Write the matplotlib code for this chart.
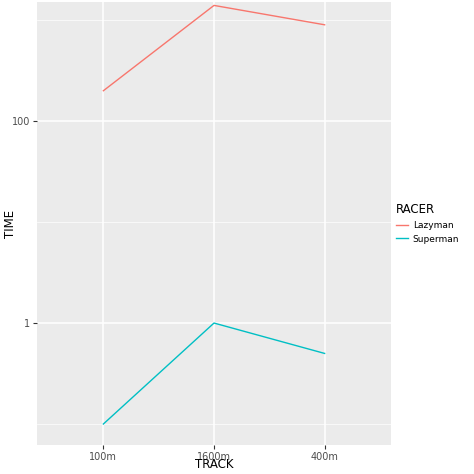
import matplotlib
matplotlib.use('Agg')
import matplotlib.pyplot as plt
import matplotlib.ticker as mticker

tracks = ['100m', '1600m', '400m']
lazyman = [200, 1400, 900]
superman = [0.1, 1.0, 0.5]

W = H = 474
fig = plt.figure(figsize=(4.74, 4.74), dpi=100)
# panel in pixel coords
l, r, t, b = 37, 391, 2, 445
ax = fig.add_axes([l / W, 1 - b / H, (r - l) / W, (b - t) / H])
ax.set_facecolor('#EBEBEB')
for s in ax.spines.values():
    s.set_visible(False)

x = range(len(tracks))
ax.plot(x, lazyman, color='#F8766D', lw=1.0, label='Lazyman')
ax.plot(x, superman, color='#00BFC4', lw=1.0, label='Superman')

ax.set_yscale('log')
ax.set_ylim(10 ** -1.208, 10 ** 3.18)
ax.set_xlim(-0.6, 2.6)
ax.set_xticks(list(x))
ax.set_xticklabels(tracks)
ax.yaxis.set_major_locator(mticker.FixedLocator([1, 100]))
ax.yaxis.set_major_formatter(mticker.FixedFormatter(['1', '100']))
ax.yaxis.set_minor_locator(mticker.FixedLocator([0.1, 10, 1000]))
ax.yaxis.set_minor_formatter(mticker.NullFormatter())
ax.grid(True, which='major', color='white', lw=1.1)
ax.grid(True, which='minor', axis='y', color='white', lw=0.5)
ax.set_axisbelow(True)
ax.tick_params(which='both', length=3, color='#333333', labelsize=7, labelcolor='#4D4D4D', pad=2)
ax.tick_params(which='minor', length=0)

# axis titles placed by hand so they stay inside the figure
fig.text((l + r) / 2 / W, 1 - 464 / H, 'TRACK', fontsize=8.5, ha='center', va='center')
fig.text(10 / W, 1 - (t + b) / 2 / H, 'TIME', fontsize=8.5, rotation=90, ha='center', va='center')

leg = ax.legend(title='RACER', loc='center left', bbox_to_anchor=(1.0, 0.5),
                frameon=False, fontsize=6.5, title_fontsize=8.5, handlelength=1.4,
                handletextpad=0.5, borderaxespad=0.1)
leg._legend_box.align = 'left'

fig.savefig('out.png', dpi=100)
